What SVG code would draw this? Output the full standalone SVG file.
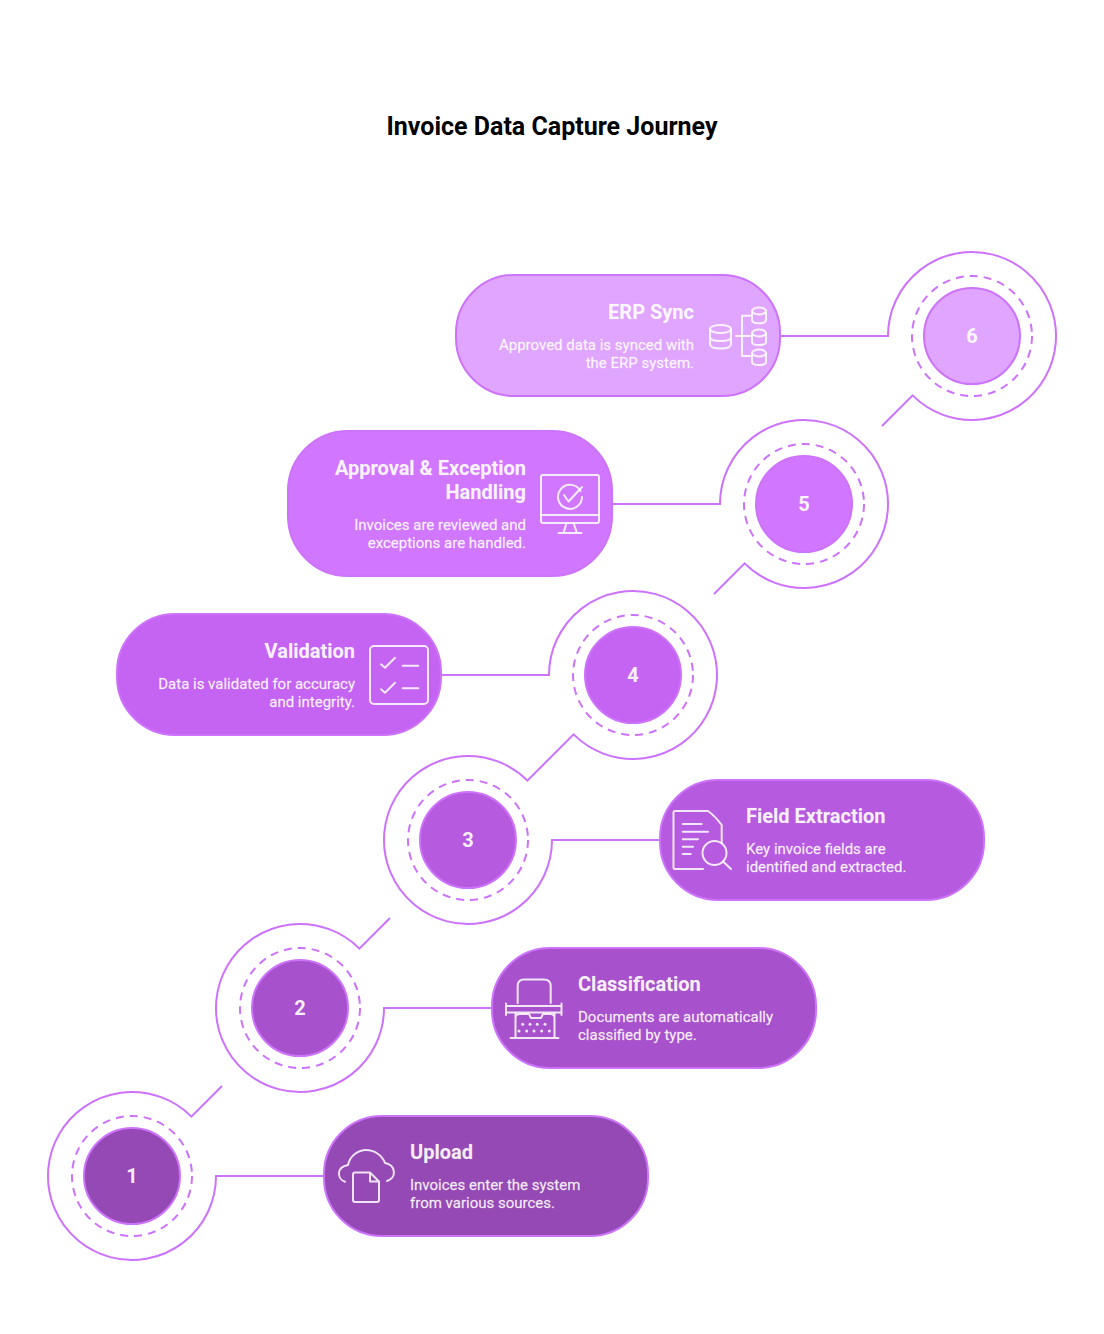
<svg xmlns="http://www.w3.org/2000/svg" width="1104" height="1334" viewBox="0 0 1104 1334">
<style>
.t{font-family:Roboto,"Liberation Sans",sans-serif}
.title{font-size:25px;font-weight:700;fill:#000;text-anchor:middle}
.h{font-size:20px;font-weight:700;fill:#fff;fill-opacity:.92;stroke:#fff;stroke-opacity:.25;stroke-width:.3}
.d{font-size:15px;font-weight:400;fill:#fff;fill-opacity:.88;stroke:#fff;stroke-opacity:.55;stroke-width:.35}
.e{text-anchor:end}
.n{font-size:20px;font-weight:700;fill:#fff;fill-opacity:.92;text-anchor:middle}
.p{stroke:#cd72fb;stroke-width:2}
.line{fill:none;stroke:#cd72fb;stroke-width:2}
.dash{fill:none;stroke:#cd72fb;stroke-width:2;stroke-dasharray:8 6}
.i{fill:none;stroke:#fff;stroke-opacity:.85;stroke-width:2;stroke-linecap:round;stroke-linejoin:round}
</style>
<rect width="1104" height="1334" fill="#fff"/>
<text class="t title" x="552" y="134.500">Invoice Data Capture Journey</text>
<g id="connectors">
<path class="line" d="M324 1176H216A84 84 0 1 1 191.400 1116.600L222 1086"/>
<path class="line" d="M492 1008H384A84 84 0 1 1 359.400 948.600L390 918"/>
<path class="line" d="M660 840H552A84 84 0 1 1 527.400 780.600L573.600 734.400A84 84 0 1 0 549 675H441"/>
<path class="line" d="M612 504H720A84 84 0 1 1 744.600 563.400L714 594"/>
<path class="line" d="M780 336H888A84 84 0 1 1 912.600 395.400L882 426"/>
</g>
<g id="node-1">
<circle class="dash" cx="132" cy="1176" r="60"/><circle class="p" cx="132" cy="1176" r="48" fill="#9549b5"/>
<text class="t n" x="132" y="1183">1</text>
<rect class="p" x="324" y="1116" width="324" height="120" rx="58" fill="#9549b5"/>
<path class="i" d="M345 1181.700C337 1179 336 1167 348 1165C350 1155 359 1150 366 1150C374 1150 382 1155 385 1163C396 1165 397 1178 387 1181"/>
<path class="i" d="M370 1172.500H355Q353 1172.500 353 1174.500V1200Q353 1202 355 1202H377Q379 1202 379 1200V1181.500L370 1172.500V1181.500H379"/>
<text class="t h" x="410" y="1159">Upload</text>
<text class="t d" x="410" y="1189.500">Invoices enter the system</text>
<text class="t d" x="410" y="1207.500">from various sources.</text>
</g>
<g id="node-2">
<circle class="dash" cx="300" cy="1008" r="60"/><circle class="p" cx="300" cy="1008" r="48" fill="#a851cc"/>
<text class="t n" x="300" y="1015">2</text>
<rect class="p" x="492" y="948" width="324" height="120" rx="58" fill="#a851cc"/>
<path class="i" d="M517.700 1003V986Q517.700 979.500 524 979.500H544Q550.700 979.500 550.700 986V1003"/>
<path class="i" d="M506 1006H561.500M506 1012.500H561.500M506 1003.500V1015M561.500 1003.500V1015"/>
<path class="i" d="M515.500 1013V1037M554.500 1013V1037M515.500 1018Q515.500 1014 520 1014H529L531 1018H541L543 1014H550Q554.500 1014 554.500 1018M510.500 1038H558.500"/>
<g fill="#fff" fill-opacity=".85"><circle cx="522.700" cy="1024.300" r="1.500"/><circle cx="530" cy="1024.300" r="1.500"/><circle cx="537.300" cy="1024.300" r="1.500"/><circle cx="545" cy="1024.300" r="1.500"/><circle cx="519" cy="1031" r="1.500"/><circle cx="526.700" cy="1031" r="1.500"/><circle cx="534" cy="1031" r="1.500"/><circle cx="541.700" cy="1031" r="1.500"/><circle cx="549.300" cy="1031" r="1.500"/></g>
<text class="t h" x="578" y="991">Classification</text>
<text class="t d" x="578" y="1021.500">Documents are automatically</text>
<text class="t d" x="578" y="1039.500">classified by type.</text>
</g>
<g id="node-3">
<circle class="dash" cx="468" cy="840" r="60"/><circle class="p" cx="468" cy="840" r="48" fill="#b65ae0"/>
<text class="t n" x="468" y="847">3</text>
<rect class="p" x="660" y="780" width="324" height="120" rx="58" fill="#b65ae0"/>
<path class="i" d="M703 869H675Q673.500 869 673.500 867.500V812.500Q673.500 811 675 811H708Q715 816 721.700 825V843"/>
<path class="i" d="M682.700 824H701.700M682.700 831.700H708M682.700 839.300H698M682.700 846.700H693M682.700 854H690.700"/>
<circle class="i" cx="714.500" cy="853" r="12"/><path class="i" d="M723 861.500L731 869"/>
<text class="t h" x="746" y="823">Field Extraction</text>
<text class="t d" x="746" y="853.500">Key invoice fields are</text>
<text class="t d" x="746" y="871.500">identified and extracted.</text>
</g>
<g id="node-4">
<circle class="dash" cx="633" cy="675" r="60"/><circle class="p" cx="633" cy="675" r="48" fill="#c564f3"/>
<text class="t n" x="633" y="682">4</text>
<rect class="p" x="117" y="614" width="324" height="121" rx="58" fill="#c564f3"/>
<rect class="i" x="370" y="646" width="58" height="58" rx="4"/>
<path class="i" d="M381 664.300L385 667.700L395 657.700M402.700 665.700H418.300M381 689.300L385 692.700L395 682.700M402.700 688.300H418.300"/>
<text class="t h e" x="355" y="658">Validation</text>
<text class="t d e" x="355" y="688.500">Data is validated for accuracy</text>
<text class="t d e" x="355" y="706.500">and integrity.</text>
</g>
<g id="node-5">
<circle class="dash" cx="804" cy="504" r="60"/><circle class="p" cx="804" cy="504" r="48" fill="#d177ff"/>
<text class="t n" x="804" y="511">5</text>
<rect class="p" x="288" y="431" width="324" height="145" rx="60" fill="#d177ff"/>
<rect class="i" x="541" y="475" width="58" height="48" rx="2"/>
<path class="i" d="M541 515H599M566.500 523L563.500 533M573.500 523L577 533M558.500 533H581.500"/>
<path class="i" d="M580.500 491A12 12 0 1 0 582 497"/>
<path class="i" d="M564 495L568.500 501.500L582 487"/>
<text class="t h e" x="526" y="475">Approval &amp; Exception</text>
<text class="t h e" x="526" y="499">Handling</text>
<text class="t d e" x="526" y="529.500">Invoices are reviewed and</text>
<text class="t d e" x="526" y="547.500">exceptions are handled.</text>
</g>
<g id="node-6">
<circle class="dash" cx="972" cy="336" r="60"/><circle class="p" cx="972" cy="336" r="48" fill="#e0a5ff"/>
<text class="t n" x="972" y="343">6</text>
<rect class="p" x="456" y="275" width="324" height="121" rx="58" fill="#e0a5ff"/>
<ellipse class="i" cx="720.500" cy="329" rx="10.500" ry="4"/>
<path class="i" d="M710 329V344Q710 348.500 720.500 348.500Q731 348.500 731 344V329M710 337Q710 341 720.500 341Q731 341 731 337"/>
<path class="i" d="M750 315.700H742V356H750M736 336H750"/>
<ellipse class="i" cx="759" cy="311" rx="7" ry="3.500"/><path class="i" d="M752 311V320Q752 323.300 759 323.300Q766 323.300 766 320V311"/>
<ellipse class="i" cx="759" cy="333" rx="7" ry="3.500"/><path class="i" d="M752 333V342Q752 345 759 345Q766 345 766 342V333"/>
<ellipse class="i" cx="759" cy="353" rx="7" ry="3.500"/><path class="i" d="M752 353V362Q752 365 759 365Q766 365 766 362V353"/>
<text class="t h e" x="694" y="319">ERP Sync</text>
<text class="t d e" x="694" y="349.500">Approved data is synced with</text>
<text class="t d e" x="694" y="367.500">the ERP system.</text>
</g>
</svg>
